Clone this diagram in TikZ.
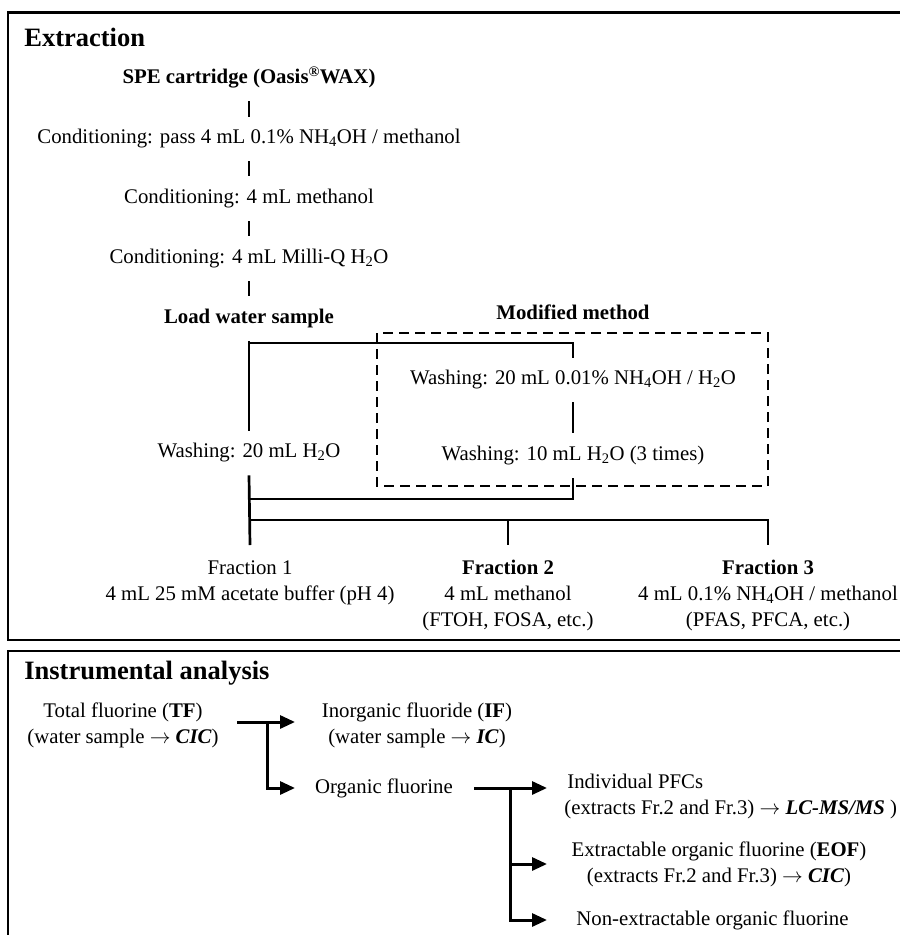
\documentclass[tikz,border=0pt]{standalone}
\usepackage{fontspec}
\setmainfont{Liberation Serif}
\usetikzlibrary{positioning,calc,arrows.meta}

\begin{document}
\begin{tikzpicture}[
    x=1pt,y=-1pt,
    font=\fontsize{20.8}{26}\selectfont,
    line width=2.7pt
  ]
\def\ysp{11.75pt}

\tikzstyle{head}=[font=\fontsize{26.5}{30}\selectfont\bfseries,anchor=west,inner sep=0pt]
\tikzstyle{stepbox}=[inner xsep=0pt,inner ysep=\ysp,text height=14pt,text depth=4.5pt]
\tikzstyle{fracbox}=[align=center,anchor=north,inner xsep=0pt,inner ysep=14pt]
\tikzstyle{txt}=[align=center,inner sep=0pt]
\tikzstyle{arr}=[-{Triangle[length=15pt,width=13pt]},line width=3pt]
\tikzstyle{modbox}=[dash pattern=on 10pt off 6pt]

\clip (0,0) rectangle (900,935);

% frames
\draw (8,12.5) rectangle (912,640);
\draw (8,651) rectangle (912,950);

%% Extraction
\node[head] (extr) at (23,37) {Extraction};
\node[stepbox] (spe) at (249,79) {\textbf{SPE cartridge (Oasis\textsuperscript{\textregistered}WAX)}};
\node[stepbox,below=15.2pt of spe] (cond1) {Conditioning: pass 4 mL 0.1\% NH\textsubscript{4}OH / methanol};
\node[stepbox,below=15.2pt of cond1] (cond2) {Conditioning: 4 mL methanol};
\node[stepbox,below=15.2pt of cond2] (cond3) {Conditioning: 4 mL Milli-Q H\textsubscript{2}O};
\node[stepbox,below=15.2pt of cond3] (load) {\textbf{Load water sample}};

\node[stepbox] (modm) at (573,315) {\textbf{Modified method}};
\node[stepbox] (wash1) at (249,453) {Washing: 20 mL H\textsubscript{2}O};
\node[stepbox] (wash2) at (573,380) {Washing: 20 mL 0.01\% NH\textsubscript{4}OH / H\textsubscript{2}O};
\node[stepbox,below=31pt of wash2] (wash3) {Washing: 10 mL H\textsubscript{2}O (3 times)};

\coordinate (mm1) at (377,333);
\coordinate (mm2) at (768,486);
\draw[modbox] (mm1) rectangle (mm2);

\node[fracbox] (frac1) at (250,545) {Fraction 1\\4 mL 25 mM acetate buffer (pH 4)};
\node[fracbox] (frac2) at (508,545) {\textbf{Fraction 2}\\4 mL methanol\\(FTOH, FOSA, etc.)};
\node[fracbox] (frac3) at (768,545) {\textbf{Fraction 3}\\4 mL 0.1\% NH\textsubscript{4}OH / methanol\\(PFAS, PFCA, etc.)};

\coordinate (jtop) at (250,343);
\coordinate (jbot) at (250,499);
\coordinate (split) at (250,520);

\draw (spe) -- (cond1);
\draw (cond1) -- (cond2);
\draw (cond2) -- (cond3);
\draw (cond3) -- (load);
\draw (load.south) -- (wash1.north);
\draw (jtop) -| (wash2.north);
\draw (wash2) -- (wash3);
\draw (wash3.south) |- (jbot);
\draw (wash1.south) -- (frac1.north);
\draw (split) -| (frac2.north);
\draw (split) -| (frac3.north);

%% Instrumental analysis
\node[head] (instr) at (23,673) {Instrumental analysis};
\node[txt] (tf) at (123,725) {Total fluorine (\textbf{TF})\\(water sample $\rightarrow$ \textbf{\textit{CIC}})};
\node[txt] (if) at (417,725) {Inorganic fluoride (\textbf{IF})\\(water sample $\rightarrow$ \textbf{\textit{IC}})};
\node[txt] (org) at (384,788) {Organic fluorine};
\node[txt,align=left,anchor=west] (pfc) at (563,796) {\hspace*{3pt}Individual PFCs\\(extracts Fr.2 and Fr.3) $\rightarrow$ \textbf{\textit{LC-MS/MS}} )};
\node[txt] (eof) at (719,864) {Extractable organic fluorine (\textbf{EOF})\\(extracts Fr.2 and Fr.3) $\rightarrow$ \textbf{\textit{CIC}})};
\node[txt,anchor=west] (nonex) at (575,920) {Non-extractable organic fluorine};

\coordinate (tfout) at (237,722);
\coordinate (tfsplit) at (267,722);
\coordinate (tfend) at (295,0);
\draw[arr] (tfout) -- (tfout -| tfend);
\draw[arr] (tfsplit) |- (tfend |- org.west);

\coordinate (ofout) at ($(org.east)+(20,0)$);
\coordinate (ofsplit) at (510,788);
\coordinate (ofend) at (547,0);
\draw[arr] (ofout) -- (ofout -| ofend);
\draw[arr] (ofsplit) |- (ofend |- eof.west);
\draw[arr] (ofsplit) |- (ofend |- nonex.west);

\end{tikzpicture}
\end{document}
